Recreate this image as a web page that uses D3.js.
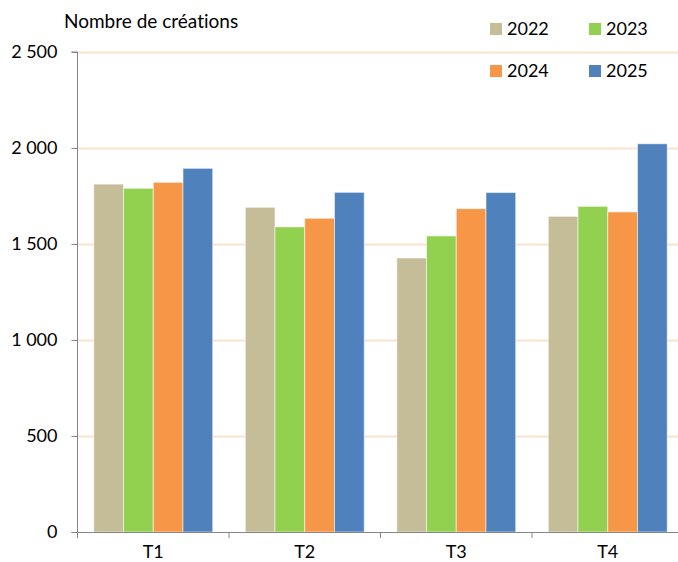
<!DOCTYPE html>
<html><head><meta charset="utf-8">
<script src="https://cdn.jsdelivr.net/npm/d3@7"></script>
<style>body{margin:0;background:#fff}svg{display:block;font-family:Lato,"Open Sans",sans-serif;font-variant-ligatures:none}</style>
</head><body>
<svg id="c" width="678" height="562"></svg>
<script>
const categories = ["T1","T2","T3","T4"];
const seriesNames = ["2022","2023","2024","2025"];
const values2022 = [1812, 1691, 1427, 1644];
const values2023 = [1790, 1589, 1542, 1696];
const values2024 = [1821, 1634, 1684, 1667];
const values2025 = [1894, 1769, 1768, 2022];
const yTicks = [0, 500, 1000, 1500, 2000, 2500];
const colors = ["#C4BD97", "#92D050", "#F79646", "#4F81BD"];
const series = [values2022, values2023, values2024, values2025];

(function () {
const svg = d3.select("#c");
const mLeft = 77.5, mRight = 683.5, mTop = 52, mBottom = 532;
const y = d3.scaleLinear().domain([0, 2500]).range([mBottom, mTop]);
const x0 = d3.scaleBand().domain(categories).range([mLeft, mRight]).paddingInner(0.215).paddingOuter(0.1075);
const x1 = d3.scaleBand().domain(seriesNames).range([0, x0.bandwidth()]);

// gridlines
svg.append("g").selectAll("line").data(yTicks.filter(d => d > 0)).join("line")
  .attr("x1", mLeft).attr("x2", 678).attr("y1", d => Math.round(y(d)) + 0.5).attr("y2", d => Math.round(y(d)) + 0.5)
  .attr("stroke", "#FCE2CC").attr("stroke-width", 2);

// bars
const g = svg.append("g");
categories.forEach((c, i) => {
  seriesNames.forEach((s, j) => {
    g.append("rect")
      .attr("x", x0(c) + x1(s)).attr("width", x1.bandwidth())
      .attr("y", y(series[j][i])).attr("height", mBottom - y(series[j][i]))
      .attr("fill", colors[j]).attr("stroke", "rgba(255,255,255,0.55)").attr("stroke-width", 1);
  });
});

// y axis
const yAxis = d3.axisLeft(y).tickValues(yTicks).tickSize(6).tickPadding(14)
  .tickFormat(d => d3.format(",")(d).replace(",", " "));
const ya = svg.append("g").attr("transform", `translate(${mLeft},0)`).call(yAxis);
ya.select(".domain").attr("stroke", "#868686").attr("d", `M-6,${mTop}H0V${mBottom}`);
ya.selectAll(".tick line").attr("stroke", "#868686");
ya.selectAll(".tick text").attr("font-size", 18).attr("fill", "#000").attr("font-family", "Lato");

// x axis
const xStep = x0.step();
const xa = svg.append("g").attr("transform", `translate(0,${mBottom})`);
xa.append("line").attr("x1", mLeft - 6).attr("x2", 678).attr("y1", 0.5).attr("y2", 0.5).attr("stroke", "#868686");
xa.selectAll(".tk").data(d3.range(categories.length)).join("line")
  .attr("x1", i => mLeft + i * xStep).attr("x2", i => mLeft + i * xStep)
  .attr("y1", 0).attr("y2", 6).attr("stroke", "#868686");
xa.selectAll("text").data(categories).join("text")
  .attr("x", d => x0(d) + x0.bandwidth() / 2).attr("y", 26)
  .attr("text-anchor", "middle").attr("font-size", 18).text(d => d);

// title
svg.append("text").attr("x", 64).attr("y", 28).attr("font-size", 19).text("Nombre de créations");

// legend
const legPos = [[490, 23], [589, 23], [490, 65], [589, 65]];
seriesNames.forEach((s, j) => {
  const [lx, ly] = legPos[j];
  svg.append("rect").attr("x", lx).attr("y", ly).attr("width", 12).attr("height", 12).attr("fill", colors[j]);
  svg.append("text").attr("x", lx + 17).attr("y", ly + 12).attr("font-size", 18).text(s);
});
})();
</script>
</body></html>
